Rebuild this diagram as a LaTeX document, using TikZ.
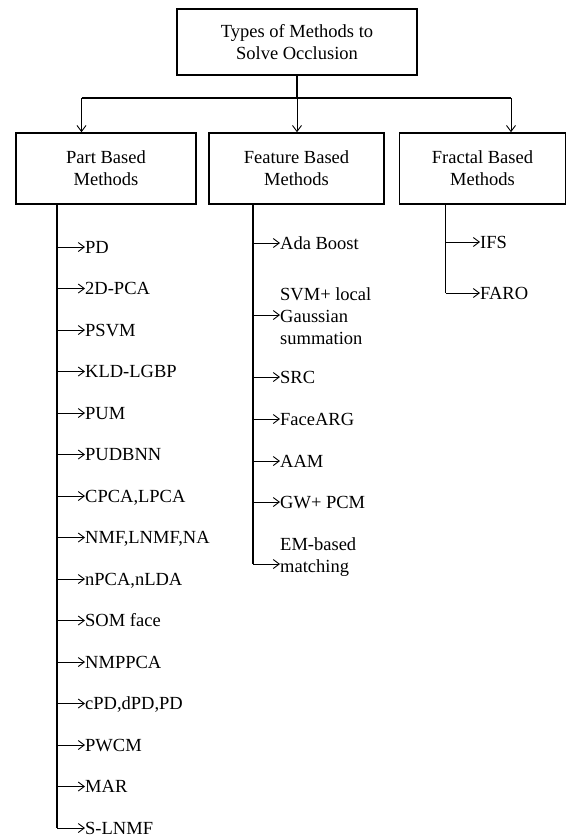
\documentclass[tikz,border=0pt]{standalone}
\usepackage{fontspec}
\setmainfont{Liberation Serif}
\usetikzlibrary{arrows.meta}
\begin{document}
\begin{tikzpicture}[x=1pt,y=-1pt,
  every node/.style={font=\fontsize{18.5}{22}\selectfont},
  catbox/.style={draw, line width=1.6pt, align=center, minimum height=71pt, inner sep=0pt},
  item/.style={anchor=west, inner sep=0pt, text height=12.2pt, text depth=0pt},
  mitem/.style={anchor=north west, inner sep=0pt, align=left},
  trunk/.style={line width=1.8pt},
  arr/.style={line width=0.9pt, -{Straight Barb[length=6pt,width=9pt]}}]
\path[use as bounding box] (0,0) rectangle (568,838);
% top
\node[catbox, minimum width=240pt, minimum height=66pt] (top) at (297,42) {Types of Methods to\\Solve Occlusion};
\node[catbox, minimum width=180pt] (b1) at (106,168.5) {Part Based\\Methods};
\node[catbox, minimum width=175pt] (b2) at (296.5,168.5) {Feature Based\\Methods};
\node[catbox, minimum width=166pt] (b3) at (482.5,168.5) {Fractal Based\\Methods};
\coordinate (hm) at (297,98);
\coordinate (h1) at (81.5,98);
\coordinate (h3) at (511,98);
\draw[trunk] (top.south) -- (hm);
\draw[trunk] (h1) -- (h3);
\draw[arr] (h1) -- (h1 |- b1.north);
\draw[arr] (hm) -- (hm |- b2.north);
\draw[arr] (h3) -- (h3 |- b3.north);
% part based
\coordinate (pv) at (57,0);
\foreach \t [count=\i] in {PD,2D-PCA,PSVM,KLD-LGBP,PUM,PUDBNN,{CPCA,LPCA},{NMF,LNMF,NA},{nPCA,nLDA},SOM face,NMPPCA,{cPD,dPD,PD},PWCM,MAR,S-LNMF}{
  \node[item] (p\i) at (85,{247+(\i-1)*41.5}) {\t};
  \draw[arr] (pv |- p\i.west) -- (p\i.west);
}
\draw[trunk] (pv |- b1.south) -- (pv |- p15.west);
% feature based
\coordinate (fv) at (253,0);
\node[item] (f1) at (280,243) {Ada Boost};
\node[mitem] (f2) at (280,287) {SVM+ local\\Gaussian\\summation};
\coordinate (f2in) at (f2.north west |- 0,315);
\node[item] (f3) at (280,377) {SRC};
\node[item] (f4) at (280,419) {FaceARG};
\node[item] (f5) at (280,461) {AAM};
\node[item] (f6) at (280,502) {GW+ PCM};
\node[mitem] (f7) at (280,537) {EM-based\\matching};
\coordinate (f7in) at (f7.north west |- 0,564);
\draw[arr] (fv |- f1.west) -- (f1.west);
\draw[arr] (fv |- f2in) -- (f2in);
\foreach \i in {3,...,6}{\draw[arr] (fv |- f\i.west) -- (f\i.west);}
\draw[arr] (fv |- f7in) -- (f7in);
\draw[trunk] (fv |- b2.south) -- (fv |- f7in);
% fractal based
\coordinate (rv) at (445.5,0);
\node[item] (r1) at (480,242) {IFS};
\node[item] (r2) at (480,293) {FARO};
\draw[arr] (rv |- r1.west) -- (r1.west);
\draw[arr] (rv |- r2.west) -- (r2.west);
\draw[trunk] (rv |- b3.south) -- (rv |- r2.west);
\end{tikzpicture}
\end{document}
